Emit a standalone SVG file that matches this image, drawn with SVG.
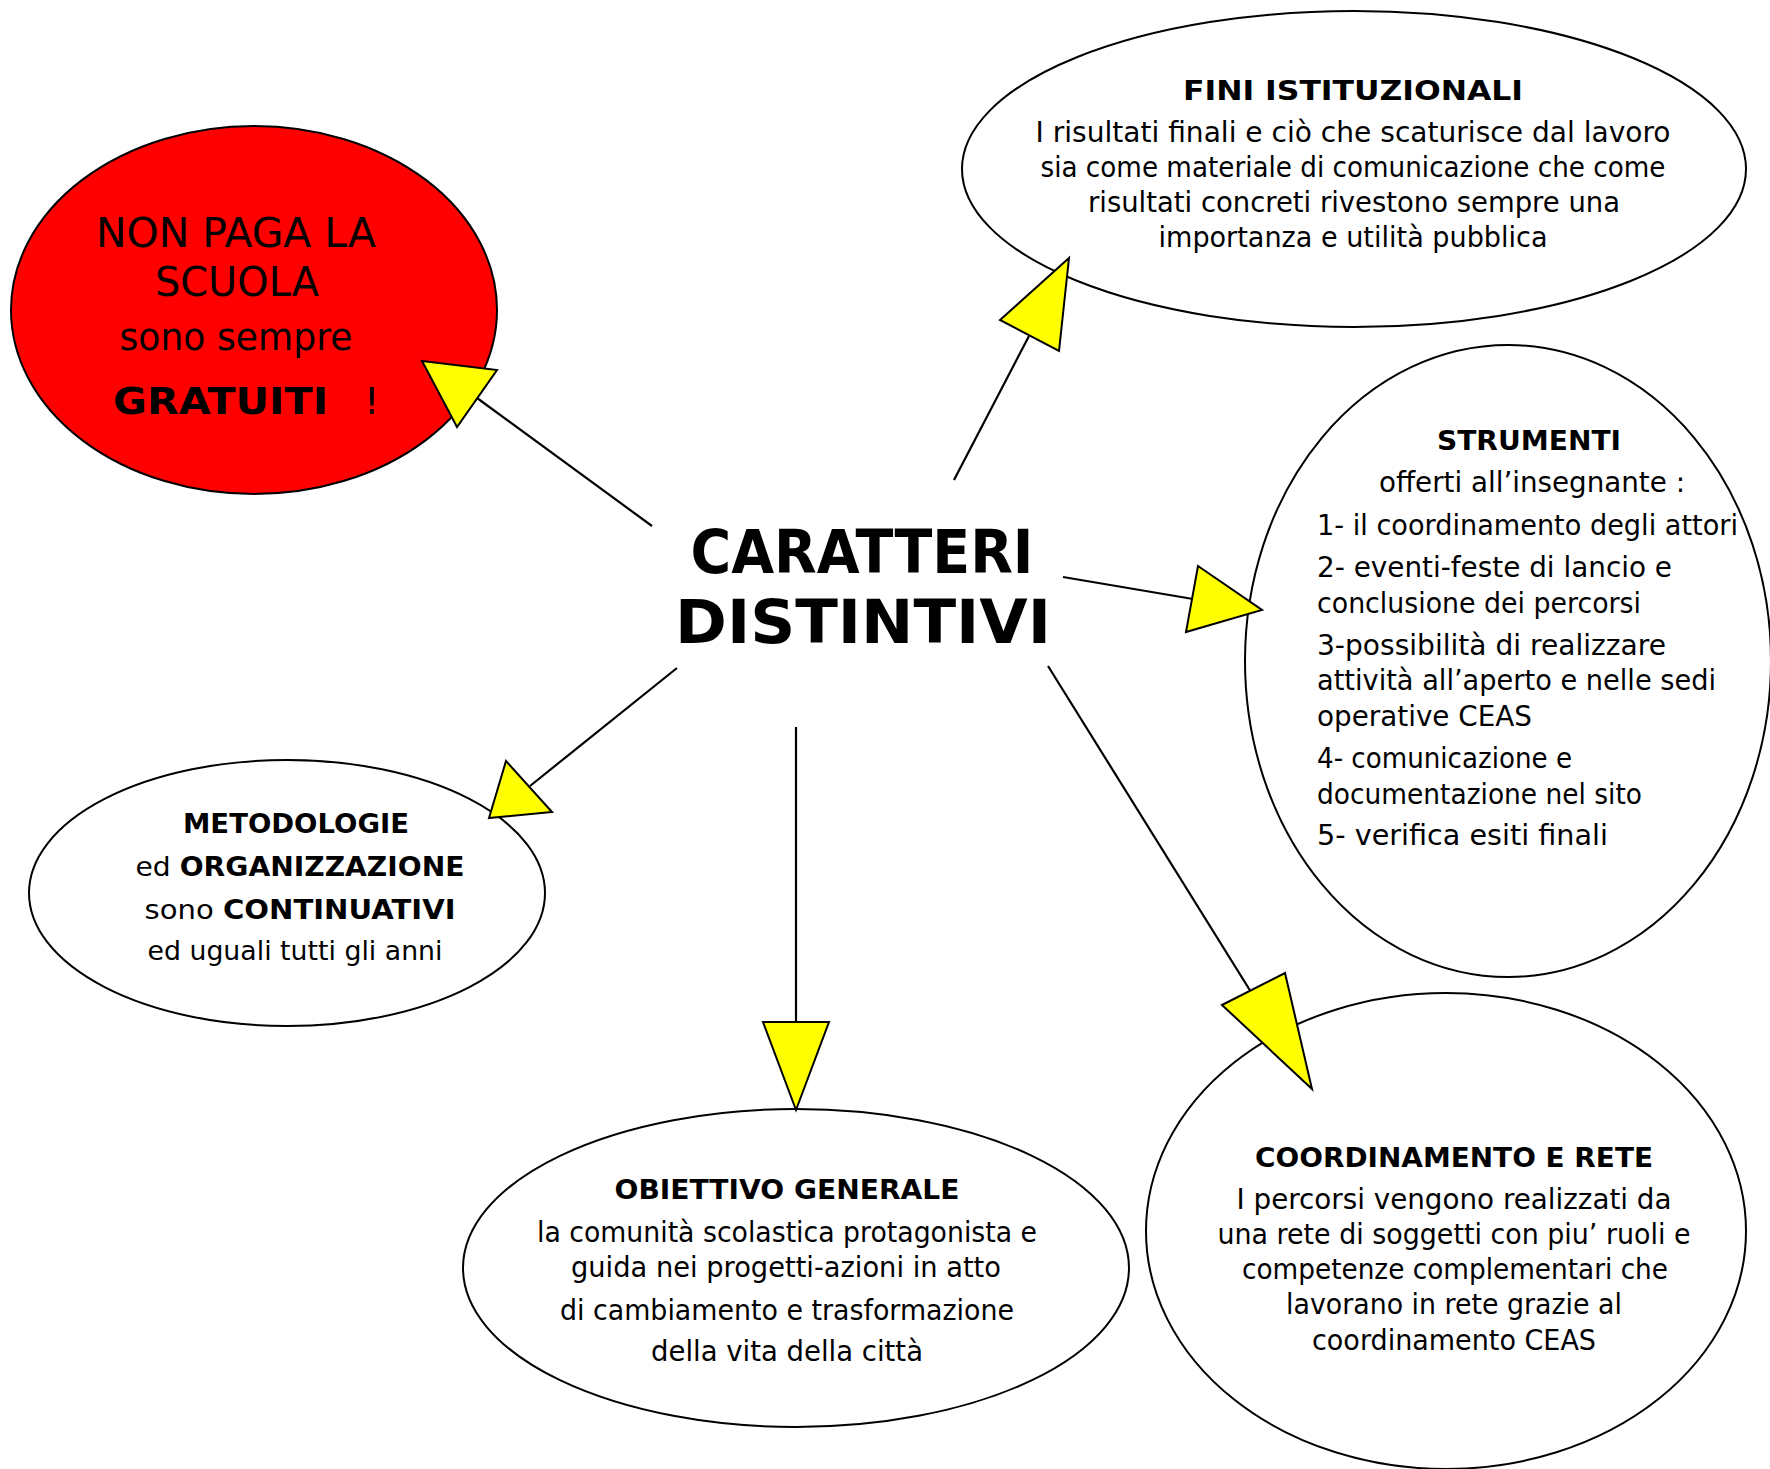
<svg xmlns="http://www.w3.org/2000/svg" width="1770" height="1469" viewBox="0 0 1770 1469">
<style>
.n{fill:#fff;stroke:#000;stroke-width:2}
.red{fill:#ff0000;stroke:#000;stroke-width:2}
.t{font-family:"DejaVu Sans","Open Sans",sans-serif;fill:#000}
.b{font-weight:bold}
.c{text-anchor:middle}
.ln{stroke:#000;stroke-width:2.2;fill:none}
.ah{fill:#ffff00;stroke:#000;stroke-width:2;stroke-linejoin:miter}
</style>
<rect width="1770" height="1469" fill="#fff"/>

<g id="node-gratuiti">
<ellipse class="red" cx="254" cy="310" rx="243" ry="184"/>
<text class="t c" x="236" y="247" font-size="40" textLength="280" lengthAdjust="spacingAndGlyphs">NON PAGA LA</text>
<text class="t c" x="237" y="296" font-size="40" textLength="164" lengthAdjust="spacingAndGlyphs">SCUOLA</text>
<text class="t c" x="236" y="350" font-size="38" textLength="233" lengthAdjust="spacingAndGlyphs">sono sempre</text>
<text class="t b" x="113" y="414" font-size="38" textLength="215" lengthAdjust="spacingAndGlyphs">GRATUITI</text>
<text class="t" x="364" y="414" font-size="38">!</text>
</g>

<g id="node-fini">
<ellipse class="n" cx="1354" cy="169" rx="392" ry="158"/>
<text class="t c b" x="1353" y="100" font-size="26" textLength="340" lengthAdjust="spacingAndGlyphs">FINI ISTITUZIONALI</text>
<text class="t c" x="1353" y="142" font-size="28" textLength="635" lengthAdjust="spacingAndGlyphs">I risultati finali e ciò che scaturisce dal lavoro</text>
<text class="t c" x="1353" y="177" font-size="28" textLength="625" lengthAdjust="spacingAndGlyphs">sia come materiale di comunicazione che come</text>
<text class="t c" x="1354" y="212" font-size="28" textLength="532" lengthAdjust="spacingAndGlyphs">risultati concreti rivestono sempre una</text>
<text class="t c" x="1353" y="247" font-size="28" textLength="389" lengthAdjust="spacingAndGlyphs">importanza e utilità pubblica</text>
</g>

<g id="node-strumenti">
<ellipse class="n" cx="1508" cy="661" rx="263" ry="316"/>
<text class="t c b" x="1529" y="450" font-size="26" textLength="184" lengthAdjust="spacingAndGlyphs">STRUMENTI</text>
<text class="t c" x="1532" y="492" font-size="28" textLength="306" lengthAdjust="spacingAndGlyphs">offerti all’insegnante :</text>
<text class="t" x="1317" y="535" font-size="28" textLength="421" lengthAdjust="spacingAndGlyphs">1- il coordinamento degli attori</text>
<text class="t" x="1317" y="577" font-size="28" textLength="355" lengthAdjust="spacingAndGlyphs">2- eventi-feste di lancio e</text>
<text class="t" x="1317" y="613" font-size="28" textLength="324" lengthAdjust="spacingAndGlyphs">conclusione dei percorsi</text>
<text class="t" x="1317" y="655" font-size="28" textLength="349" lengthAdjust="spacingAndGlyphs">3-possibilità di realizzare</text>
<text class="t" x="1317" y="690" font-size="28" textLength="399" lengthAdjust="spacingAndGlyphs">attività all’aperto e nelle sedi</text>
<text class="t" x="1317" y="726" font-size="28" textLength="215" lengthAdjust="spacingAndGlyphs">operative CEAS</text>
<text class="t" x="1317" y="768" font-size="28" textLength="255" lengthAdjust="spacingAndGlyphs">4- comunicazione e</text>
<text class="t" x="1317" y="804" font-size="28" textLength="325" lengthAdjust="spacingAndGlyphs">documentazione nel sito</text>
<text class="t" x="1317" y="845" font-size="28" textLength="291" lengthAdjust="spacingAndGlyphs">5- verifica esiti finali</text>
</g>

<g id="node-metodologie">
<ellipse class="n" cx="287" cy="893" rx="258" ry="133"/>
<text class="t c b" x="296" y="833" font-size="26" textLength="226" lengthAdjust="spacingAndGlyphs">METODOLOGIE</text>
<text class="t c" x="300" y="876" font-size="27" textLength="329" lengthAdjust="spacingAndGlyphs">ed <tspan class="b">ORGANIZZAZIONE</tspan></text>
<text class="t c" x="300" y="919" font-size="27" textLength="311" lengthAdjust="spacingAndGlyphs">sono <tspan class="b">CONTINUATIVI</tspan></text>
<text class="t c" x="295" y="960" font-size="27" textLength="295" lengthAdjust="spacingAndGlyphs">ed uguali tutti gli anni</text>
</g>

<g id="node-obiettivo">
<ellipse class="n" cx="796" cy="1268" rx="333" ry="159"/>
<text class="t c b" x="787" y="1199" font-size="26" textLength="345" lengthAdjust="spacingAndGlyphs">OBIETTIVO GENERALE</text>
<text class="t c" x="787" y="1242" font-size="28" textLength="500" lengthAdjust="spacingAndGlyphs">la comunità scolastica protagonista e</text>
<text class="t c" x="786" y="1277" font-size="28" textLength="430" lengthAdjust="spacingAndGlyphs">guida nei progetti-azioni in atto</text>
<text class="t c" x="787" y="1320" font-size="28" textLength="454" lengthAdjust="spacingAndGlyphs">di cambiamento e trasformazione</text>
<text class="t c" x="787" y="1361" font-size="28" textLength="272" lengthAdjust="spacingAndGlyphs">della vita della città</text>
</g>

<g id="node-coordinamento">
<ellipse class="n" cx="1446" cy="1231" rx="300" ry="238"/>
<text class="t c b" x="1454" y="1167" font-size="26" textLength="398" lengthAdjust="spacingAndGlyphs">COORDINAMENTO E RETE</text>
<text class="t c" x="1454" y="1209" font-size="28" textLength="435" lengthAdjust="spacingAndGlyphs">I percorsi vengono realizzati da</text>
<text class="t c" x="1454" y="1244" font-size="28" textLength="473" lengthAdjust="spacingAndGlyphs">una rete di soggetti con piu’ ruoli e</text>
<text class="t c" x="1455" y="1279" font-size="28" textLength="426" lengthAdjust="spacingAndGlyphs">competenze complementari che</text>
<text class="t c" x="1454" y="1314" font-size="28" textLength="336" lengthAdjust="spacingAndGlyphs">lavorano in rete grazie al</text>
<text class="t c" x="1454" y="1350" font-size="28" textLength="284" lengthAdjust="spacingAndGlyphs">coordinamento CEAS</text>
</g>

<g id="node-caratteri">
<text class="t c b" x="862" y="573" font-size="60" textLength="343" lengthAdjust="spacingAndGlyphs">CARATTERI</text>
<text class="t c b" x="863" y="643" font-size="60" textLength="376" lengthAdjust="spacingAndGlyphs">DISTINTIVI</text>
</g>

<g id="connectors">
<line class="ln" x1="652" y1="526" x2="477" y2="398"/>
<polygon class="ah" points="422,361 497,370 457,427"/>
<line class="ln" x1="954" y1="480" x2="1029" y2="336"/>
<polygon class="ah" points="1069,258 1000,320 1059,351"/>
<line class="ln" x1="1063" y1="577" x2="1193" y2="599"/>
<polygon class="ah" points="1198,566 1262,610 1186,632"/>
<line class="ln" x1="677" y1="668" x2="530" y2="786"/>
<polygon class="ah" points="506,761 552,812 489,818"/>
<line class="ln" x1="796" y1="727" x2="796" y2="1022"/>
<polygon class="ah" points="763,1022 829,1022 796,1110"/>
<line class="ln" x1="1048" y1="666" x2="1251" y2="992"/>
<polygon class="ah" points="1222,1005 1285,973 1312,1089"/>
</g>
</svg>
